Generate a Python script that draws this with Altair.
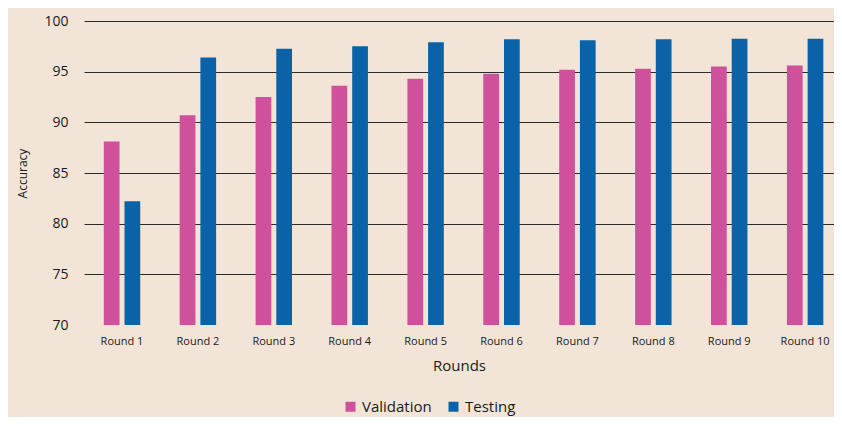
import altair as alt
import pandas as pd

rounds = [f"Round {i}" for i in range(1, 11)]
validation = [88.1, 90.7, 92.5, 93.6, 94.3, 94.8, 95.2, 95.3, 95.5, 95.6]
testing = [82.2, 96.4, 97.25, 97.5, 97.9, 98.2, 98.1, 98.2, 98.25, 98.25]
series = ["Validation", "Testing"]
colors = ["#d0519b", "#0a63a8"]

rows = []
for r, v, t in zip(rounds, validation, testing):
    rows.append({"Round": r, "Series": "Validation", "Accuracy": v})
    rows.append({"Round": r, "Series": "Testing", "Accuracy": t})
df = pd.DataFrame(rows)

FONT = "Open Sans"

chart = alt.Chart(df).mark_bar(clip=True).encode(
    x=alt.X("Round:N", sort=rounds, title="Rounds",
            scale=alt.Scale(paddingInner=0.52, paddingOuter=0.2005, align=0.65),
            axis=alt.Axis(labelAngle=0, labelFontSize=11, labelColor="#1a1a1a",
                          labelFont=FONT, ticks=False, domain=False,
                          labelPadding=10, titleFontSize=15, titleFont=FONT,
                          titleFontWeight="normal", titleColor="#1a1a1a",
                          titlePadding=12)),
    xOffset=alt.XOffset("Series:N", sort=series,
                        scale=alt.Scale(paddingInner=0.24, paddingOuter=0)),
    y=alt.Y("Accuracy:Q", title="Accuracy",
            scale=alt.Scale(domain=[70, 100], zero=False, nice=False),
            axis=alt.Axis(values=[70, 75, 80, 85, 90, 95, 100], ticks=False,
                          domain=False, labelFontSize=14, labelFont=FONT,
                          labelColor="#1a1a1a", labelPadding=16,
                          gridColor="#2b2b2b", gridWidth=1,
                          gridOpacity={"condition": {"test": "datum.value === 70", "value": 0}, "value": 1},
                          titleFontSize=12, titleFont=FONT, titleFontWeight="normal",
                          titleColor="#1a1a1a", titlePadding=14)),
    color=alt.Color("Series:N", sort=series,
                    scale=alt.Scale(domain=series, range=colors),
                    legend=alt.Legend(title=None, orient="none", direction="horizontal",
                                      legendX=259, legendY=378,
                                      symbolType="square", symbolSize=100,
                                      symbolStrokeWidth=0,
                                      labelFontSize=15, labelFont=FONT,
                                      labelColor="#1a1a1a", columnPadding=14,
                                      labelOffset=4)),
).properties(
    width=750, height=304,
    autosize=alt.AutoSizeParams(type="none"),
    padding={"left": 76, "top": 13, "right": 0, "bottom": 92},
    background="#f2e5d7",
).configure_view(stroke=None)

chart.save("out.html", embed_options={"renderer": "svg", "actions": False})
